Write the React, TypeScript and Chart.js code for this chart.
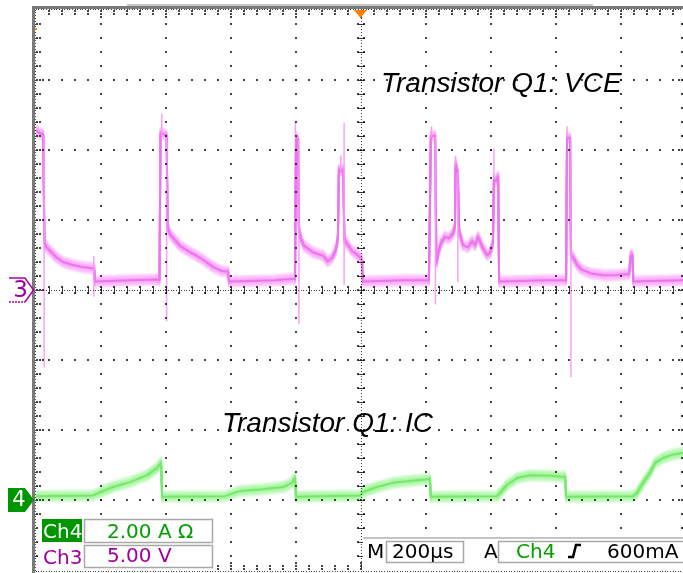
import { useEffect, useRef } from "react";
import { Chart, registerables } from "chart.js";

Chart.register(...registerables);

// Scope settings
const TIME_PER_DIV_US = 200;
const X_DIVS = 10;
const Y_DIVS = 8;
const CH3_VOLTS_PER_DIV = 5; // Ch3 ground on the centre line
const CH4_AMPS_PER_DIV = 2; // Ch4 ground three divisions below centre
const CH4_GROUND_DIV = -3;

// Ch3: collector-emitter voltage (µs, V)
const ch3TimeUs = [
  0, 12, 22, 26, 31, 43, 62, 83, 111, 142, 175, 179, 182, 228, 289, 375, 380, 383, 397, 402,
  405, 412, 443, 474, 505, 545, 572, 591, 594, 658, 735, 797, 800, 806, 809, 815, 825, 852, 883, 898,
  911, 923, 929, 932, 938, 945, 949, 957, 972, 997, 1003, 1006, 1058, 1135, 1209, 1215, 1228, 1232, 1237, 1246,
  1258, 1271, 1283, 1289, 1291, 1295, 1298, 1302, 1314, 1329, 1342, 1351, 1360, 1375, 1388, 1397, 1406, 1409, 1415, 1422,
  1425, 1489, 1566, 1631, 1634, 1643, 1646, 1652, 1665, 1680, 1705, 1745, 1782, 1825, 1830, 1835, 1838, 1889, 1991,
];
const ch3Volts = [
  11.4, 11.2, 11.1, 3.4, 3.1, 2.8, 2.35, 2.0, 1.8, 1.65, 1.55, 1.5, 0.6, 0.65, 0.7, 0.75, 0.7, 11.2, 11.1, 11.0,
  4.5, 4.0, 3.15, 2.7, 2.3, 1.65, 1.35, 1.3, 0.6, 0.65, 0.7, 0.8, 10.9, 10.8, 4.4, 3.65, 3.15, 2.7, 2.45, 2.05,
  2.3, 2.9, 3.8, 8.6, 8.5, 8.6, 3.65, 3.3, 2.8, 2.35, 2.1, 0.6, 0.65, 0.7, 0.7, 11.0, 11.0, 1.95, 2.55, 3.35,
  3.8, 3.7, 4.05, 4.5, 9.0, 8.65, 8.3, 4.2, 3.2, 3.05, 3.5, 3.2, 3.8, 3.0, 2.5, 2.65, 3.35, 7.9, 7.8, 8.1,
  0.6, 0.65, 0.7, 0.7, 10.9, 10.85, 2.55, 2.35, 1.8, 1.45, 1.2, 1.05, 1.05, 1.15, 2.5, 2.5, 0.6, 0.65, 0.7,
];

// Ch3: narrow ringing spikes at the switching edges (µs, from V, to V)
const ch3SpikeTimeUs = [25, 178, 387, 402, 798, 809, 938, 948, 1217, 1229, 1291, 1298, 1409, 1634, 1646, 1831];
const ch3SpikeFromV = [11.0, 2.4, 11.0, 11.0, 10.8, 10.8, 8.5, 11.9, 10.9, 10.9, 8.8, 8.4, 7.9, 10.9, 10.8, 2.5];
const ch3SpikeToV = [-5.5, -0.45, 12.6, -2.2, 12.0, -2.4, 9.6, 0.4, 11.7, -1.0, 9.6, 0.6, 10.1, 11.7, -6.2, 2.8];

// Ch4: collector current (µs, A)
const ch4TimeUs = [
  0, 175, 197, 237, 289, 342, 372, 385, 388, 582, 628, 698, 760, 788, 797, 800, 997, 1006, 1049, 1098,
  1151, 1212, 1215, 1418, 1428, 1449, 1480, 1520, 1582, 1628, 1631, 1837, 1849, 1868, 1889, 1905, 1929, 1957, 1991,
];
const ch4Amps = [
  0.11, 0.13, 0.22, 0.37, 0.51, 0.71, 0.91, 1.06, 0.09, 0.11, 0.26, 0.31, 0.37, 0.49, 0.63, 0.09, 0.13, 0.23, 0.37, 0.49,
  0.54, 0.6, 0.09, 0.11, 0.2, 0.43, 0.63, 0.71, 0.69, 0.66, 0.09, 0.11, 0.2, 0.49, 0.77, 1.06, 1.2, 1.29, 1.34,
];

// Canvas and graticule geometry
const W = 683;
const H = 573;
const PLOT_LEFT = 36;
const PLOT_TOP = 10;
const DIV_W = 65;
const DIV_H = 70;

const MAGENTA_CORE = "rgb(238,116,238)";
const MAGENTA_BAND = "rgb(246,136,246)";
const MAGENTA_TEXT = "rgb(160,0,160)";
const GREEN_CORE = "rgb(118,232,108)";
const GREEN_BAND = "rgb(134,242,124)";
const GREEN_TEXT = "rgb(0,150,0)";
const PANEL_FONT = '20px "DejaVu Sans", sans-serif';
const LABEL_FONT = 'italic 28px "Liberation Sans", Arial, sans-serif';

const BAND_OFFSETS = [-6, -5, -4, -3, -2, -1, 0, 1, 2, 3, 4, 5, 6];

// Draws the noise band around a trace: the polyline stroked at several vertical offsets
const traceBandPlugin = {
  id: "traceBand",
  beforeDatasetDraw(chart: any, args: any) {
    const ds = chart.data.datasets[args.index] as any;
    if (!ds.bandColor) return;
    const { ctx, chartArea: a } = chart;
    const pts = args.meta.data;
    ctx.save();
    ctx.beginPath();
    ctx.rect(a.left, a.top, a.right - a.left, a.bottom - a.top);
    ctx.clip();
    ctx.strokeStyle = ds.bandColor;
    ctx.lineWidth = 2;
    ctx.lineJoin = "round";
    for (const off of BAND_OFFSETS) {
      ctx.globalAlpha = Math.max(0.12, 0.6 - 0.08 * Math.abs(off));
      ctx.beginPath();
      pts.forEach((p: any, i: number) => {
        if (i === 0) ctx.moveTo(p.x, p.y + off);
        else ctx.lineTo(p.x, p.y + off);
      });
      ctx.stroke();
    }
    ctx.restore();
  },
};

// Dotted oscilloscope graticule with ruler edges
const graticulePlugin = {
  id: "graticule",
  afterDatasetsDraw(chart: any) {
    const { ctx, scales } = chart;
    const xs = scales.x;
    const ys = scales.y3;
    const x0 = xs.getPixelForValue(0);
    const divW = xs.getPixelForValue(TIME_PER_DIV_US) - x0;
    const y0 = ys.getPixelForValue((CH3_VOLTS_PER_DIV * Y_DIVS) / 2);
    const divH = ys.getPixelForValue(0) - ys.getPixelForValue(CH3_VOLTS_PER_DIV);
    const right = x0 + divW * X_DIVS;
    const bottom = y0 + divH * Y_DIVS;
    const cx = x0 + divW * (X_DIVS / 2);
    const cy = y0 + divH * (Y_DIVS / 2);
    const dot = (x: number, y: number, w = 2, h = 2) =>
      ctx.fillRect(Math.round(x - w / 2), Math.round(y - h / 2), w, h);

    ctx.save();
    // frame bars
    ctx.fillStyle = "#c8c8c8";
    ctx.fillRect(127, y0 - 6, 466, 2);
    ctx.fillStyle = "#7a7a7a";
    ctx.fillRect(x0 - 4, y0 - 4, W, 3);
    ctx.fillRect(x0 - 4, y0 - 4, 3, bottom - y0 + 8);

    ctx.fillStyle = "rgba(20,20,20,0.8)";
    // regular grid lines
    for (let j = 1; j < Y_DIVS; j++) {
      if (j === Y_DIVS / 2) continue;
      const y = y0 + j * divH;
      for (let i = 1; i < X_DIVS * 5; i++) dot(x0 + (i * divW) / 5, y);
    }
    for (let i = 1; i < X_DIVS; i++) {
      if (i === X_DIVS / 2) continue;
      const x = x0 + i * divW;
      for (let j = 1; j < Y_DIVS * 5; j++) dot(x, y0 + (j * divH) / 5);
    }
    // centre crosshair: fine dots plus minor ticks
    for (let k = 1; k < X_DIVS * 25; k++) dot(x0 + (k * divW) / 25, cy, 1, 1);
    for (let k = 1; k < X_DIVS * 5; k++) {
      const x = Math.round(x0 + (k * divW) / 5);
      ctx.fillRect(x, cy - 3, 1, 7);
      dot(x, cy - 3);
      dot(x, cy + 3);
    }
    for (let k = 1; k < Y_DIVS * 25; k++) dot(cx, y0 + (k * divH) / 25, 1, 1);
    for (let k = 1; k < Y_DIVS * 5; k++) {
      const y = Math.round(y0 + (k * divH) / 5);
      ctx.fillRect(cx - 3, y, 7, 1);
      dot(cx - 3, y);
      dot(cx + 3, y);
    }
    // ruler ticks on the edges
    for (let k = 0; k <= X_DIVS * 25; k++) {
      dot(x0 + (k * divW) / 25, y0 - 1, 1, 1);
      dot(x0 + (k * divW) / 25, bottom + 1, 1, 1);
    }
    for (let k = 0; k <= Y_DIVS * 25; k++) dot(x0 - 1, y0 + (k * divH) / 25, 1, 1);
    for (let k = 1; k < X_DIVS * 5; k++) {
      const x = x0 + (k * divW) / 5;
      const major = k % 5 === 0;
      dot(x, y0 + 1);
      dot(x, y0 + 4);
      dot(x, bottom - 1);
      dot(x, bottom - 4);
      if (major) {
        dot(x, y0 + 7);
        dot(x, bottom - 7);
      }
    }
    for (let k = 1; k < Y_DIVS * 5; k++) {
      const y = y0 + (k * divH) / 5;
      const major = k % 5 === 0;
      dot(x0 + 1, y);
      dot(x0 + 4, y);
      dot(right - 1, y);
      dot(right - 4, y);
      if (major) {
        dot(x0 + 7, y);
        dot(right - 7, y);
      }
    }
    // trigger position and trigger level marks
    ctx.fillStyle = "#ff8000";
    ctx.beginPath();
    ctx.moveTo(cx - 7, y0);
    ctx.lineTo(cx + 6, y0);
    ctx.lineTo(cx - 0.5, y0 + 8);
    ctx.closePath();
    ctx.fill();
    ctx.fillRect(x0 - 1, y0 + 18, 2, 2);
    ctx.restore();
  },
};

// Channel markers, captions and readout panels
const overlayPlugin = {
  id: "overlay",
  afterDraw(chart: any) {
    const { ctx, scales } = chart;
    const ch3Ground = scales.y3.getPixelForValue(0);
    const ch4Ground = scales.y4.getPixelForValue(0);
    ctx.save();

    // Ch3 ground marker (outlined)
    ctx.strokeStyle = "rgb(170,0,170)";
    ctx.lineWidth = 1.5;
    ctx.beginPath();
    ctx.moveTo(9, ch3Ground - 12);
    ctx.lineTo(25, ch3Ground - 12);
    ctx.lineTo(33.5, ch3Ground);
    ctx.lineTo(25, ch3Ground + 12);
    ctx.stroke();
    ctx.setLineDash([2, 1]);
    ctx.beginPath();
    ctx.moveTo(9, ch3Ground + 12);
    ctx.lineTo(25, ch3Ground + 12);
    ctx.stroke();
    ctx.setLineDash([]);
    ctx.fillStyle = MAGENTA_TEXT;
    ctx.font = '23px "DejaVu Sans", sans-serif';
    ctx.textAlign = "center";
    ctx.textBaseline = "middle";
    ctx.fillText("3", 20.5, ch3Ground + 1);

    // Ch4 ground marker (filled)
    ctx.fillStyle = GREEN_TEXT;
    ctx.beginPath();
    ctx.moveTo(8, ch4Ground - 12);
    ctx.lineTo(25, ch4Ground - 12);
    ctx.lineTo(34, ch4Ground);
    ctx.lineTo(25, ch4Ground + 12);
    ctx.lineTo(8, ch4Ground + 12);
    ctx.closePath();
    ctx.fill();
    ctx.fillStyle = "#fff";
    ctx.font = '21px "DejaVu Sans", sans-serif';
    ctx.fillText("4", 19, ch4Ground + 1);

    // trace captions
    ctx.textAlign = "left";
    ctx.textBaseline = "alphabetic";
    ctx.fillStyle = "#000";
    ctx.font = LABEL_FONT;
    ctx.fillText("Transistor Q1: VCE", 381, 92);
    ctx.fillText("Transistor Q1: IC", 222, 432);

    // vertical scale readouts
    ctx.fillStyle = "#fff";
    ctx.fillRect(38, 516, 177, 54);
    ctx.fillStyle = GREEN_TEXT;
    ctx.fillRect(42, 519, 40, 23);
    ctx.strokeStyle = "#a8a8a8";
    ctx.lineWidth = 1.5;
    ctx.strokeRect(84.5, 519.5, 128, 23);
    ctx.strokeRect(84.5, 545.5, 128, 22);
    ctx.font = PANEL_FONT;
    ctx.fillStyle = "#fff";
    ctx.fillText("Ch4", 43, 538);
    ctx.fillStyle = "rgb(0,160,0)";
    ctx.fillText("2.00 A \u03A9", 107, 538);
    ctx.fillStyle = MAGENTA_TEXT;
    ctx.fillText("Ch3", 43, 564);
    ctx.fillText("5.00 V", 107, 562);

    // timebase and trigger readout
    ctx.fillStyle = "#fff";
    ctx.fillRect(363, 539, W - 363, 31);
    ctx.fillStyle = "#c4c4c4";
    ctx.fillRect(363, 537, W - 363, 2);
    ctx.strokeStyle = "#a8a8a8";
    ctx.strokeRect(386.5, 541.5, 77, 21);
    ctx.strokeRect(498.5, 541.5, 200, 21);
    ctx.fillStyle = "#000";
    ctx.fillText("M", 367, 558);
    ctx.fillText("200\u00B5s", 392, 558);
    ctx.fillText("A", 484, 558);
    ctx.fillText("600mA", 607, 558);
    ctx.fillStyle = "rgb(0,160,0)";
    ctx.fillText("Ch4", 516, 558);
    // rising-edge slope symbol
    ctx.strokeStyle = "#000";
    ctx.lineWidth = 2.5;
    ctx.beginPath();
    ctx.moveTo(568, 557);
    ctx.lineTo(573, 557);
    ctx.lineTo(576, 545);
    ctx.lineTo(581, 545);
    ctx.stroke();
    ctx.restore();
  },
};

export default function App() {
  const canvasRef = useRef<HTMLCanvasElement>(null);

  useEffect(() => {
    const canvas = canvasRef.current;
    if (!canvas) return;

    const ch3Points = ch3TimeUs.map((t, i) => ({ x: t, y: ch3Volts[i] }));
    const ch4Points = ch4TimeUs.map((t, i) => ({ x: t, y: ch4Amps[i] }));
    const spikePoints: { x: number; y: number | null }[] = [];
    ch3SpikeTimeUs.forEach((t, i) => {
      spikePoints.push({ x: t, y: ch3SpikeFromV[i] });
      spikePoints.push({ x: t, y: ch3SpikeToV[i] });
      spikePoints.push({ x: t, y: null });
    });

    const visibleDivs = (W - PLOT_LEFT) / DIV_W;

    const chart = new Chart(canvas, {
      type: "line",
      data: {
        datasets: [
          {
            label: "Ch3 spikes",
            data: spikePoints,
            yAxisID: "y3",
            borderColor: "rgba(250,150,250,0.9)",
            borderWidth: 1.5,
            pointRadius: 0,
            spanGaps: false,
          },
          {
            label: "Ch3",
            data: ch3Points,
            yAxisID: "y3",
            borderColor: MAGENTA_CORE,
            borderWidth: 2,
            pointRadius: 0,
            bandColor: MAGENTA_BAND,
          } as any,
          {
            label: "Ch4",
            data: ch4Points,
            yAxisID: "y4",
            borderColor: GREEN_CORE,
            borderWidth: 2,
            pointRadius: 0,
            bandColor: GREEN_BAND,
          } as any,
        ],
      },
      options: {
        responsive: false,
        devicePixelRatio: 1,
        animation: false,
        events: [],
        layout: {
          padding: { left: PLOT_LEFT, top: PLOT_TOP, right: 0, bottom: H - PLOT_TOP - DIV_H * Y_DIVS },
        },
        elements: { line: { tension: 0, borderJoinStyle: "round" } },
        plugins: { legend: { display: false }, tooltip: { enabled: false } },
        scales: {
          x: { type: "linear", min: 0, max: TIME_PER_DIV_US * visibleDivs, display: false },
          y3: {
            type: "linear",
            axis: "y",
            min: (-CH3_VOLTS_PER_DIV * Y_DIVS) / 2,
            max: (CH3_VOLTS_PER_DIV * Y_DIVS) / 2,
            display: false,
          },
          y4: {
            type: "linear",
            axis: "y",
            min: (-Y_DIVS / 2 - CH4_GROUND_DIV) * CH4_AMPS_PER_DIV,
            max: (Y_DIVS / 2 - CH4_GROUND_DIV) * CH4_AMPS_PER_DIV,
            display: false,
          },
        },
      } as any,
      plugins: [traceBandPlugin, graticulePlugin, overlayPlugin],
    });

    return () => chart.destroy();
  }, []);

  return (
    <canvas
      ref={canvasRef}
      width={W}
      height={H}
      style={{ position: "fixed", left: 0, top: 0, width: W, height: H, background: "#fff" }}
    />
  );
}
